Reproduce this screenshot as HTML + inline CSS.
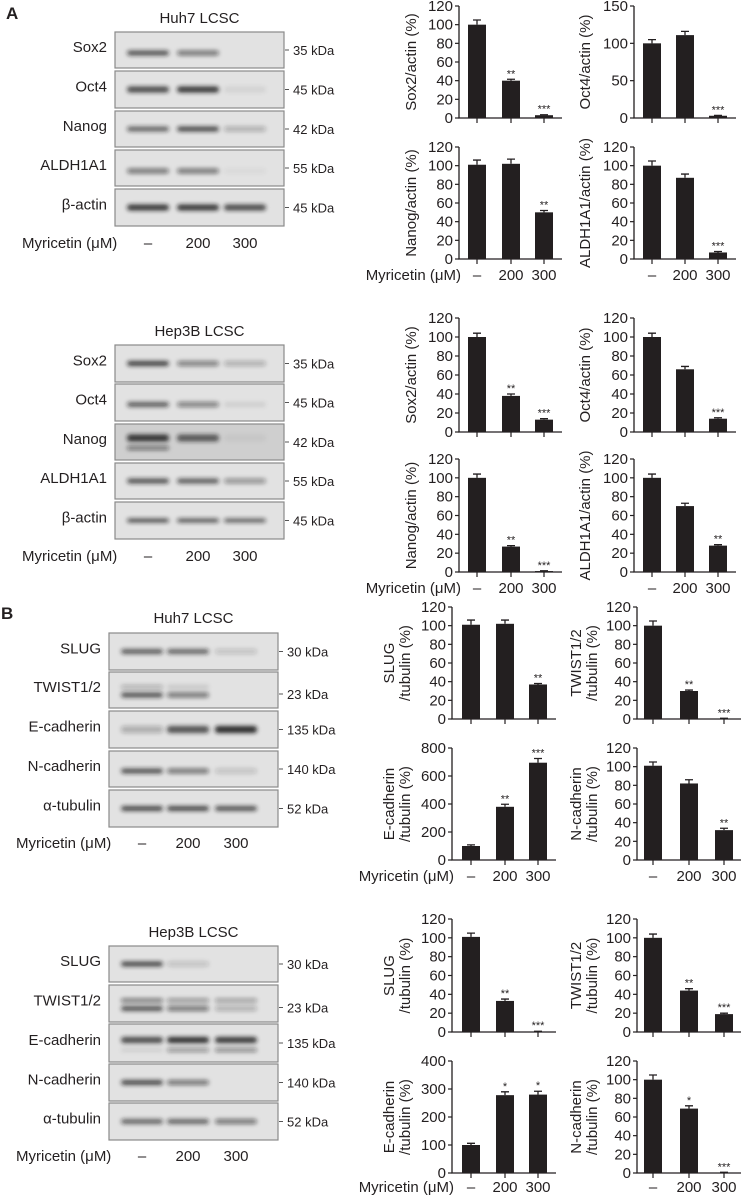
<!DOCTYPE html>
<html><head><meta charset="utf-8">
<style>
html,body{margin:0;padding:0;background:#fff;}
svg{display:block;font-family:"Liberation Sans",Arial,sans-serif;}
</style></head>
<body>
<svg id="fig" width="741" height="1197" viewBox="0 0 741 1197" xmlns="http://www.w3.org/2000/svg">
<defs>
<filter id="blur" x="-20%" y="-150%" width="140%" height="400%"><feGaussianBlur stdDeviation="2"/></filter>
</defs>
<text x="6" y="19" font-size="17" font-weight="bold" fill="#231f20">A</text>
<text x="1" y="619" font-size="17" font-weight="bold" fill="#231f20">B</text>
</svg>
<script>
// ---- chart data ----
const categories = ['–', '200', '300'];
const sox2HuhVals = [100, 40, 3];      const sox2HuhErr = [5, 1.5, 0.5];   const sox2HuhStars = ['', '**', '***'];
const oct4HuhVals = [100, 111, 3];     const oct4HuhErr = [5, 5, 0.5];     const oct4HuhStars = ['', '', '***'];
const nanogHuhVals = [101, 102, 50];   const nanogHuhErr = [5, 5, 2];      const nanogHuhStars = ['', '', '**'];
const aldhHuhVals = [100, 87, 7];      const aldhHuhErr = [5, 4, 1];       const aldhHuhStars = ['', '', '***'];
const sox2HepVals = [100, 38, 13];     const sox2HepErr = [4, 2, 1];       const sox2HepStars = ['', '**', '***'];
const oct4HepVals = [100, 66, 14];     const oct4HepErr = [4, 3, 1];       const oct4HepStars = ['', '', '***'];
const nanogHepVals = [100, 27, 1];     const nanogHepErr = [4, 1, 0.3];    const nanogHepStars = ['', '**', '***'];
const aldhHepVals = [100, 70, 28];     const aldhHepErr = [4, 3, 1];       const aldhHepStars = ['', '', '**'];
const slugHuhVals = [101, 102, 37];    const slugHuhErr = [5, 4, 1];       const slugHuhStars = ['', '', '**'];
const twistHuhVals = [100, 30, 0.5];   const twistHuhErr = [5, 1, 0.3];    const twistHuhStars = ['', '**', '***'];
const ecadHuhVals = [100, 380, 695];   const ecadHuhErr = [8, 18, 30];     const ecadHuhStars = ['', '**', '***'];
const ncadHuhVals = [101, 82, 32];     const ncadHuhErr = [4, 4, 2];       const ncadHuhStars = ['', '', '**'];
const slugHepVals = [101, 33, 0.5];    const slugHepErr = [4, 2, 0.3];     const slugHepStars = ['', '**', '***'];
const twistHepVals = [100, 44, 19];    const twistHepErr = [4, 2, 1];      const twistHepStars = ['', '**', '***'];
const ecadHepVals = [100, 278, 280];   const ecadHepErr = [6, 12, 12];     const ecadHepStars = ['', '*', '*'];
const ncadHepVals = [100, 69, 0.5];    const ncadHepErr = [5, 3, 0.3];     const ncadHepStars = ['', '*', '***'];
const ticks120 = [0, 20, 40, 60, 80, 100, 120];
const ticks150 = [0, 50, 100, 150];
const ticks800 = [0, 200, 400, 600, 800];
const ticks400 = [0, 100, 200, 300, 400];

const NS = 'http://www.w3.org/2000/svg';
const svg = document.getElementById('fig');
function el(tag, attrs, parent, txt) {
  const e = document.createElementNS(NS, tag);
  for (const k in attrs) e.setAttribute(k, attrs[k]);
  if (txt !== undefined) e.textContent = txt;
  (parent || svg).appendChild(e);
  return e;
}
const INK = '#231f20';

function drawChart(name, L, vals, errs, stars, ticks, titles, showX) {
  const g = el('g', {});
  
  
  const maxV = ticks[ticks.length - 1];
  const y = v => L.base - (v / maxV) * (L.base - L.top);
  const xEnd = L.centers[2] + 18;
  const ax = el('path', {d: `M${L.axisX},${L.top} V${L.base} H${xEnd}`, stroke: INK, 'stroke-width': 1.3, fill: 'none'}, g);
  
  
  ticks.forEach(t => {
    el('line', {x1: L.axisX - 4, x2: L.axisX, y1: y(t), y2: y(t), stroke: INK, 'stroke-width': 1.2}, g);
    const tl = el('text', {x: L.axisX - 6, y: y(t) + 5, 'font-size': 15, 'text-anchor': 'end', fill: INK}, g, String(t));
    
    
  });
  const midY = (L.top + L.base) / 2;
  titles.forEach((t, i) => {
    const tx = L.titleX[i];
    const tt = el('text', {x: tx, y: midY, 'font-size': 15, 'text-anchor': 'middle', fill: INK, transform: `rotate(-90 ${tx} ${midY})`, 'dominant-baseline': 'middle'}, g, t);
    
    
  });
  vals.forEach((v, i) => {
    const cx = L.centers[i];
    const bw = 18;
    const b = el('rect', {x: cx - bw / 2, y: y(v), width: bw, height: L.base - y(v), fill: INK}, g);
    
    
    const et = y(v + errs[i]);
    el('path', {d: `M${cx},${y(v)} V${et} M${cx - 4},${et} H${cx + 4}`, stroke: INK, 'stroke-width': 1.3, fill: 'none'}, g);
    el('line', {x1: cx, x2: cx, y1: L.base, y2: L.base + 5, stroke: INK, 'stroke-width': 1.2}, g);
    if (stars[i]) {
      const s = el('text', {x: cx, y: et - 2, 'font-size': 11, 'text-anchor': 'middle', fill: INK}, g, stars[i]);
      
      
    }
    if (showX) {
      const xl = el('text', {x: cx, y: L.labelY, 'font-size': 15, 'text-anchor': 'middle', fill: INK}, g, categories[i]);
      
      
    }
  });
  if (L.myricetin) {
    const m = el('text', {x: L.axisX + 2, y: L.labelY, 'font-size': 15, 'text-anchor': 'end', fill: INK}, g, 'Myricetin (μM)');
    
    
  }
}

const AL = {axisX: 459, centers: [477, 511, 544]};
const AR = {axisX: 634, centers: [652, 685, 718]};
const BL = {axisX: 452, centers: [471, 505, 538]};
const BR = {axisX: 637, centers: [653, 689, 724]};
function L(base, side, top, b, labelY, titleX, my) { return Object.assign({}, base, {top: top, base: b, labelY: labelY, titleX: titleX, myricetin: my}); }

drawChart('sox2-huh7', L(AL, 0, 6, 118, 0, [412]), sox2HuhVals, sox2HuhErr, sox2HuhStars, ticks120, ['Sox2/actin (%)'], false);
drawChart('oct4-huh7', L(AR, 0, 6, 118, 0, [586]), oct4HuhVals, oct4HuhErr, oct4HuhStars, ticks150, ['Oct4/actin (%)'], false);
drawChart('nanog-huh7', L(AL, 0, 147, 259, 280, [412], true), nanogHuhVals, nanogHuhErr, nanogHuhStars, ticks120, ['Nanog/actin (%)'], true);
drawChart('aldh1a1-huh7', L(AR, 0, 147, 259, 280, [586]), aldhHuhVals, aldhHuhErr, aldhHuhStars, ticks120, ['ALDH1A1/actin (%)'], true);
drawChart('sox2-hep3b', L(AL, 0, 318, 432, 0, [412]), sox2HepVals, sox2HepErr, sox2HepStars, ticks120, ['Sox2/actin (%)'], false);
drawChart('oct4-hep3b', L(AR, 0, 318, 432, 0, [586]), oct4HepVals, oct4HepErr, oct4HepStars, ticks120, ['Oct4/actin (%)'], false);
drawChart('nanog-hep3b', L(AL, 0, 459, 572, 593, [412], true), nanogHepVals, nanogHepErr, nanogHepStars, ticks120, ['Nanog/actin (%)'], true);
drawChart('aldh1a1-hep3b', L(AR, 0, 459, 572, 593, [586]), aldhHepVals, aldhHepErr, aldhHepStars, ticks120, ['ALDH1A1/actin (%)'], true);
drawChart('slug-huh7', L(BL, 0, 607, 719, 0, [390, 406]), slugHuhVals, slugHuhErr, slugHuhStars, ticks120, ['SLUG', '/tubulin (%)'], false);
drawChart('twist-huh7', L(BR, 0, 607, 719, 0, [577, 593]), twistHuhVals, twistHuhErr, twistHuhStars, ticks120, ['TWIST1/2', '/tubulin (%)'], false);
drawChart('ecad-huh7', L(BL, 0, 748, 860, 881, [390, 406], true), ecadHuhVals, ecadHuhErr, ecadHuhStars, ticks800, ['E-cadherin', '/tubulin (%)'], true);
drawChart('ncad-huh7', L(BR, 0, 748, 860, 881, [577, 593]), ncadHuhVals, ncadHuhErr, ncadHuhStars, ticks120, ['N-cadherin', '/tubulin (%)'], true);
drawChart('slug-hep3b', L(BL, 0, 919, 1032, 0, [390, 406]), slugHepVals, slugHepErr, slugHepStars, ticks120, ['SLUG', '/tubulin (%)'], false);
drawChart('twist-hep3b', L(BR, 0, 919, 1032, 0, [577, 593]), twistHepVals, twistHepErr, twistHepStars, ticks120, ['TWIST1/2', '/tubulin (%)'], false);
drawChart('ecad-hep3b', L(BL, 0, 1061, 1173, 1192, [390, 406], true), ecadHepVals, ecadHepErr, ecadHepStars, ticks400, ['E-cadherin', '/tubulin (%)'], true);
drawChart('ncad-hep3b', L(BR, 0, 1061, 1173, 1192, [577, 593]), ncadHepVals, ncadHepErr, ncadHepStars, ticks120, ['N-cadherin', '/tubulin (%)'], true);

// ---- western blots ----
const aLanes = [148, 198, 245];
const bLanes = [142, 188, 236];
function drawBlot(name, title, titleY, x0, x1, lanes, rows, myrY, lx) {
  const g = el('g', {});
  
  
  const t = el('text', {x: (x0 + x1) / 2, y: titleY + 5, 'font-size': 15, 'text-anchor': 'middle', fill: INK}, g, title);
  
  
  rows.forEach(r => {
    const bg = el('rect', {x: x0, y: r.y0, width: x1 - x0, height: r.y1 - r.y0, fill: r.bg || '#e2e2e2', stroke: '#8a8a8a', 'stroke-width': 1.2}, g);
    
    
    const cy = (r.y0 + r.y1) / 2 + (r.dy || 0);
    r.bands.forEach((v, i) => {
      if (v > 0) el('rect', {x: lanes[i] - 21, y: cy - (r.h || 5) / 2, width: 42, height: r.h || 5, rx: 3, fill: `rgba(25,25,25,${v * 0.9})`, filter: 'url(#blur)'}, g);
    });
    if (r.bands2) r.bands2.forEach((v, i) => {
      if (v > 0) el('rect', {x: lanes[i] - 21, y: cy + r.off2 - 2, width: 42, height: 4, rx: 2, fill: `rgba(25,25,25,${v * 0.9})`, filter: 'url(#blur)'}, g);
    });
    const lbl = el('text', {x: x0 - 8, y: (r.y0 + r.y1) / 2 + 2, 'font-size': 15, 'text-anchor': 'end', fill: INK}, g, r.label);
    
    
    const ky = (r.y0 + r.y1) / 2 + (r.kdy || 4);
    el('line', {x1: x1 + 1, x2: x1 + 5, y1: ky - 4, y2: ky - 4, stroke: '#555', 'stroke-width': 1}, g);
    const kd = el('text', {x: x1 + 9, y: ky + 1, 'font-size': 13, fill: INK}, g, r.kda);
    
    
  });
  const m = el('text', {x: lx, y: myrY + 5, 'font-size': 15, fill: INK}, g, 'Myricetin (μM)');
  
  
  categories.forEach((c, i) => {
    const ct = el('text', {x: lanes[i], y: myrY + 5, 'font-size': 15, 'text-anchor': 'middle', fill: INK}, g, c);
    
    
  });
}

drawBlot('huh7-stemness', 'Huh7 LCSC', 18, 115, 284, aLanes, [
  {y0: 32, y1: 68, label: 'Sox2', kda: '35 kDa', bands: [0.8, 0.6, 0], dy: 3},
  {y0: 71, y1: 108, label: 'Oct4', kda: '45 kDa', bands: [0.85, 0.95, 0.08], h: 6},
  {y0: 111, y1: 147, label: 'Nanog', kda: '42 kDa', bands: [0.7, 0.85, 0.3], h: 5},
  {y0: 150, y1: 186, label: 'ALDH1A1', kda: '55 kDa', bands: [0.6, 0.6, 0.05], dy: 3},
  {y0: 189, y1: 226, label: 'β-actin', kda: '45 kDa', bands: [0.95, 0.95, 0.85], h: 6},
], 243, 22);

drawBlot('hep3b-stemness', 'Hep3B LCSC', 331, 115, 284, aLanes, [
  {y0: 345, y1: 382, label: 'Sox2', kda: '35 kDa', bands: [0.9, 0.55, 0.3]},
  {y0: 384, y1: 421, label: 'Oct4', kda: '45 kDa', bands: [0.75, 0.55, 0.1], dy: 2},
  {y0: 424, y1: 460, label: 'Nanog', kda: '42 kDa', bands: [0.95, 0.75, 0.05], dy: -4, h: 7, bg: '#cfcfcf', bands2: [0.6, 0, 0], off2: 10},
  {y0: 463, y1: 499, label: 'ALDH1A1', kda: '55 kDa', bands: [0.8, 0.75, 0.45]},
  {y0: 502, y1: 539, label: 'β-actin', kda: '45 kDa', bands: [0.85, 0.8, 0.75], h: 4},
], 556, 22);

drawBlot('huh7-emt', 'Huh7 LCSC', 618, 109, 278, bLanes, [
  {y0: 633, y1: 670, label: 'SLUG', kda: '30 kDa', bands: [0.75, 0.7, 0.2]},
  {y0: 672, y1: 708, label: 'TWIST1/2', kda: '23 kDa', bands: [0.8, 0.6, 0], dy: 5, bands2: [0.3, 0.15, 0], off2: -8, kdy: 8},
  {y0: 711, y1: 748, label: 'E-cadherin', kda: '135 kDa', bands: [0.3, 0.8, 1], h: 7},
  {y0: 751, y1: 787, label: 'N-cadherin', kda: '140 kDa', bands: [0.8, 0.6, 0.2], dy: 2},
  {y0: 790, y1: 827, label: 'α-tubulin', kda: '52 kDa', bands: [0.85, 0.85, 0.8]},
], 843, 16);

drawBlot('hep3b-emt', 'Hep3B LCSC', 932, 109, 278, bLanes, [
  {y0: 946, y1: 982, label: 'SLUG', kda: '30 kDa', bands: [0.85, 0.2, 0]},
  {y0: 985, y1: 1022, label: 'TWIST1/2', kda: '23 kDa', bands: [0.8, 0.6, 0.3], dy: 5, bands2: [0.6, 0.45, 0.4], off2: -8, kdy: 8},
  {y0: 1024, y1: 1062, label: 'E-cadherin', kda: '135 kDa', bands: [0.85, 1, 0.95], dy: -3, h: 6, bands2: [0.1, 0.45, 0.5], off2: 10},
  {y0: 1064, y1: 1101, label: 'N-cadherin', kda: '140 kDa', bands: [0.85, 0.6, 0]},
  {y0: 1103, y1: 1140, label: 'α-tubulin', kda: '52 kDa', bands: [0.7, 0.7, 0.6]},
], 1156, 16);
</script>
</body></html>
